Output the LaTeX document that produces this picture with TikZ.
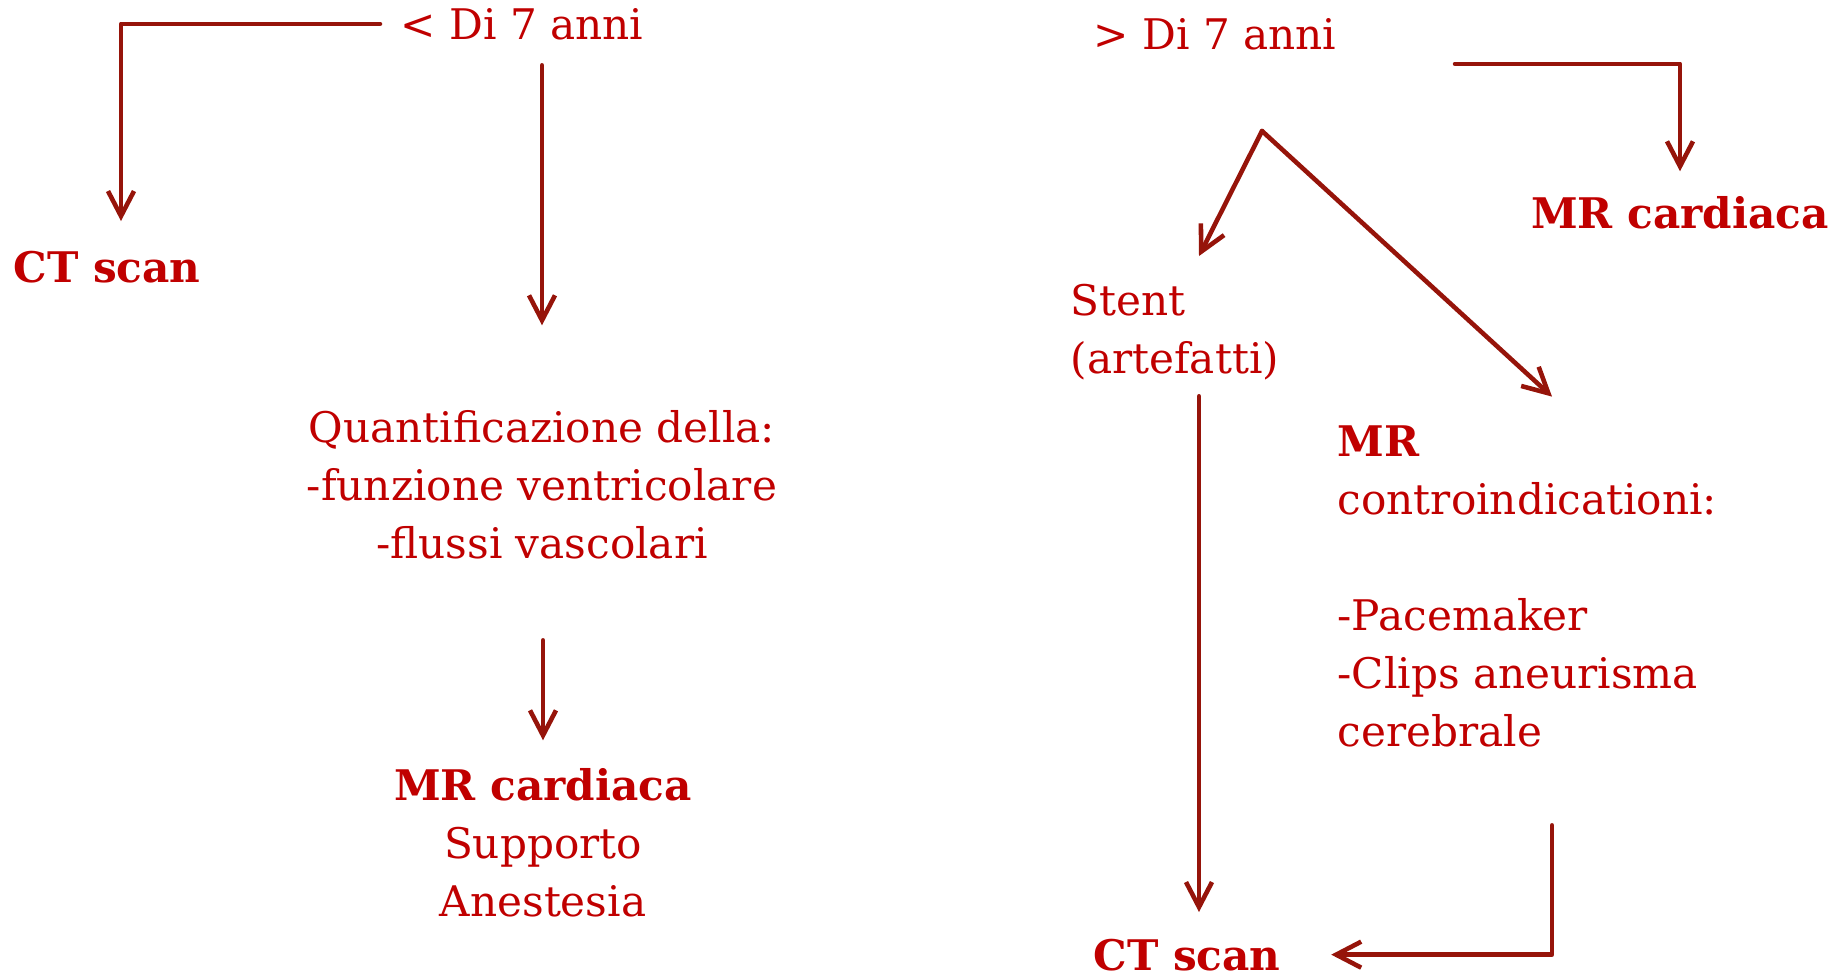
\documentclass[tikz,border=0pt]{standalone}
\usepackage{fontspec}
\setmainfont{DejaVu Serif}
\usetikzlibrary{arrows.meta,positioning,calc}
\definecolor{rosso}{RGB}{192,0,0}
\definecolor{bordeaux}{RGB}{150,20,10}
\tikzset{
 txt/.style={text=rosso, inner sep=0pt, font=\fontsize{12}{16.5}\selectfont},
 bold/.style={txt, font=\fontsize{12}{16.5}\selectfont\bfseries},
 arr/.style={draw=bordeaux, line width=1.3pt, -{Straight Barb[length=2.5mm,width=2.6mm]}},
}
\begin{document}
\begin{tikzpicture}[line join=round, line cap=round]
 \useasboundingbox (0,0) rectangle (18.39,-9.75);
 % < 7 anni
 \node[txt, anchor=base] (young) at (5.22,-0.39) {< Di 7 anni};
 \node[bold, anchor=base] (ctl) at (1.07,-2.82) {CT scan};
 \node[txt, anchor=base, align=center] (quant) at (5.42,-5.58)
  {Quantificazione della:\\-funzione ventricolare\\-flussi vascolari};
 \node[txt, anchor=base, align=center] (mrl) at (5.43,-9.16)
  {\textbf{MR cardiaca}\\Supporto\\Anestesia};
 % > 7 anni
 \node[txt, anchor=base] (old) at (12.15,-0.49) {> Di 7 anni};
 \node[bold, anchor=base] (mrr) at (16.80,-2.28) {MR cardiaca};
 \node[txt, anchor=base west, align=left] (stent) at (10.70,-3.73) {Stent\\(artefatti)};
 \node[txt, anchor=base west, align=left] (mrc) at (13.37,-7.46)
  {\textbf{MR}\\controindicationi:\\[16.5pt]-Pacemaker\\-Clips aneurisma\\cerebrale};
 \node[bold, anchor=base] (ctr) at (11.87,-9.70) {CT scan};
 \coordinate (fork) at (12.62,-1.31);
 \coordinate (s) at ([xshift=12.9mm]stent.south west);

 \draw[arr] ([xshift=-2mm]young.west) -| ([xshift=1.4mm,yshift=2.9mm]ctl.north);
 \draw[arr] ([yshift=-2.5mm]young.south -| quant.north) -- ([yshift=8.4mm]quant.north);
 \draw[arr] ([yshift=-8.1mm]quant.south -| mrl.north) -- ([yshift=2.7mm]mrl.north);
 \draw[arr] ([xshift=11.8mm,yshift=-3mm]old.east) -| ([yshift=2.4mm]mrr.north);
 \draw[arr] (fork) -- ([xshift=12.9mm,yshift=2.7mm]stent.north west);
 \draw[arr] (fork) -- ([xshift=21.5mm,yshift=2.8mm]mrc.north west);
 \draw[arr] ([yshift=-1.6mm]s) -- ([yshift=2.6mm]s |- ctr.north);
 \draw[arr] ([xshift=21.5mm,yshift=-7.8mm]mrc.south west) |- ([xshift=5mm]ctr.east);
\end{tikzpicture}
\end{document}
